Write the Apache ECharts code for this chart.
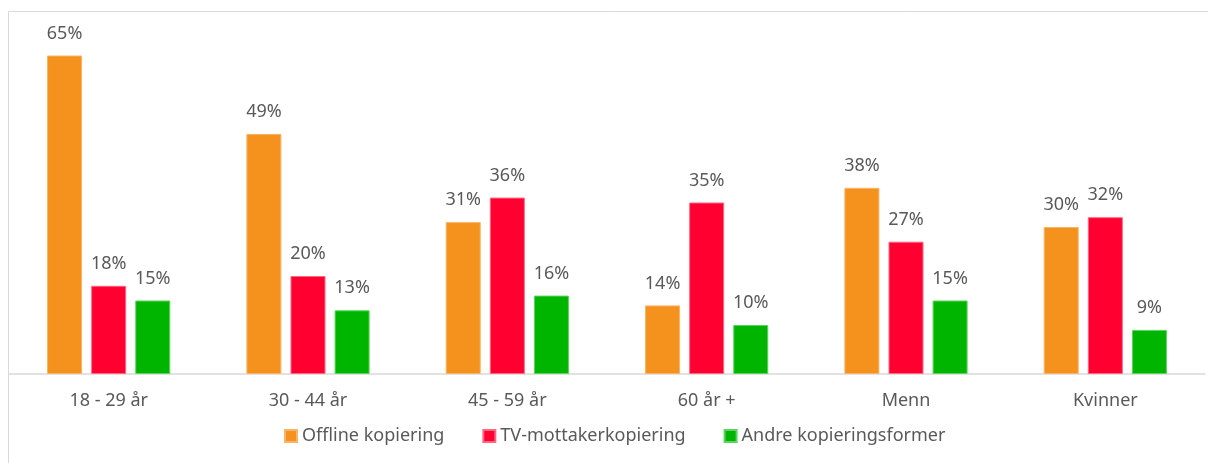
<!DOCTYPE html>
<html>
<head>
<meta charset="utf-8">
<style>
  html, body { margin: 0; padding: 0; background: #fff; }
  #chart { width: 1208px; height: 463px; }
</style>
<script src="https://cdn.jsdelivr.net/npm/echarts@6/dist/echarts.min.js"></script>
</head>
<body>
<div id="chart"></div>
<script>
const categories = ['18 - 29 år', '30 - 44 år', '45 - 59 år', '60 år +', 'Menn', 'Kvinner']
const seriesNames = ['Offline kopiering', 'TV-mottakerkopiering', 'Andre kopieringsformer']
const offline = [65, 49, 31, 14, 38, 30]
const tvMottaker = [18, 20, 36, 35, 27, 32]
const andre = [15, 13, 16, 10, 15, 9]
const colors = ['#F5921E', '#FF0030', '#00B500']
const borders = ['#F8B468', '#FF6680', '#5CD35C']

const chart = echarts.init(document.getElementById('chart'))
const font = '"Noto Sans", sans-serif'
const textColor = '#595959'

const makeSeries = (name, data, i) => ({
  name,
  type: 'bar',
  data,
  barWidth: 35,
  barGap: '26%',
  itemStyle: { color: colors[i], borderColor: borders[i], borderWidth: 1 },
  label: {
    show: true,
    position: 'top',
    distance: 13,
    formatter: '{c}%',
    color: textColor,
    fontSize: 18,
    fontFamily: font
  }
})

chart.setOption({
  animation: false,
  color: colors,
  graphic: [{
    type: 'polyline',
    shape: { points: [[8.5, 463], [8.5, 11.5], [1208, 11.5]] },
    style: { stroke: '#d9d9d9', lineWidth: 1, fill: null }
  }],
  grid: { left: 9, right: 3, top: 31, bottom: 89 },
  legend: {
    data: seriesNames,
    left: 279,
    top: 422,
    itemWidth: 12,
    itemHeight: 12,
    itemGap: 38,
    icon: 'rect',
    textStyle: { color: textColor, fontSize: 18, fontFamily: font }
  },
  xAxis: {
    type: 'category',
    data: categories,
    axisLine: { lineStyle: { color: '#d9d9d9', width: 1.5 } },
    axisTick: { show: false },
    axisLabel: { color: textColor, fontSize: 18, fontFamily: font, margin: 18 }
  },
  yAxis: {
    type: 'value',
    min: 0,
    max: 70,
    show: false,
    splitLine: { show: false }
  },
  series: [
    makeSeries(seriesNames[0], offline, 0),
    makeSeries(seriesNames[1], tvMottaker, 1),
    makeSeries(seriesNames[2], andre, 2)
  ]
})
</script>
</body>
</html>
